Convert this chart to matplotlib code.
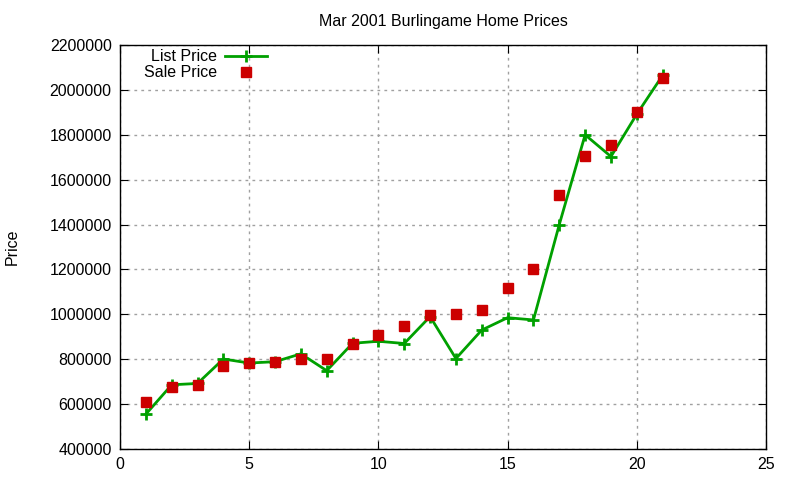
import numpy as np
import matplotlib.pyplot as plt

plt.rcParams['font.family'] = ['Liberation Sans', 'DejaVu Sans']

# listing number
listing = np.arange(1, 22)

# asking / selling prices
list_price = [555000, 686000, 692000, 801000, 783000, 789000, 824000, 749000,
              871000, 880000, 870000, 990000, 803000, 930000, 985000, 975000,
              1400000, 1800000, 1703000, 1892000, 2065000]
sale_price = [610000, 678000, 683000, 772000, 784000, 789000, 801000, 801000,
              868000, 909000, 949000, 997000, 1003000, 1019000, 1119000, 1203000,
              1532000, 1705000, 1754000, 1902000, 2053000]

fig = plt.figure(figsize=(8, 4.8), dpi=100)
ax = fig.add_axes([0.15, 0.0646, 0.8075, 0.8416])

ax.plot(listing, list_price, color='#00a000', lw=2, marker='+', ms=9, mew=2,
        label='List Price')
ax.plot(listing, sale_price, ls='none', color='#cc0000', marker='s', ms=6.5,
        label='Sale Price')

ax.set_xlim(0, 25)
ax.set_ylim(400000, 2200000)
ax.set_xticks(range(0, 26, 5))
ax.set_yticks(range(400000, 2200001, 200000))
ax.ticklabel_format(style='plain', useOffset=False)
ax.tick_params(direction='in', top=True, right=True, labelsize=11.5, length=6, pad=6)
ax.grid(True, color='#a0a0a0', ls=(0, (2, 3)), lw=1)
for s in ax.spines.values():
    s.set_linewidth(1)

ax.set_title('Mar 2001 Burlingame Home Prices', fontsize=11.5, pad=14)
ax.set_ylabel('Price', fontsize=11.5, labelpad=21)

ax.legend(loc='upper left', bbox_to_anchor=(0.02, 1.017), frameon=False,
          markerfirst=False, fontsize=11.5, handlelength=2.6, borderaxespad=0.3,
          labelspacing=0.05, handletextpad=0.5)

fig.savefig('out.png')
